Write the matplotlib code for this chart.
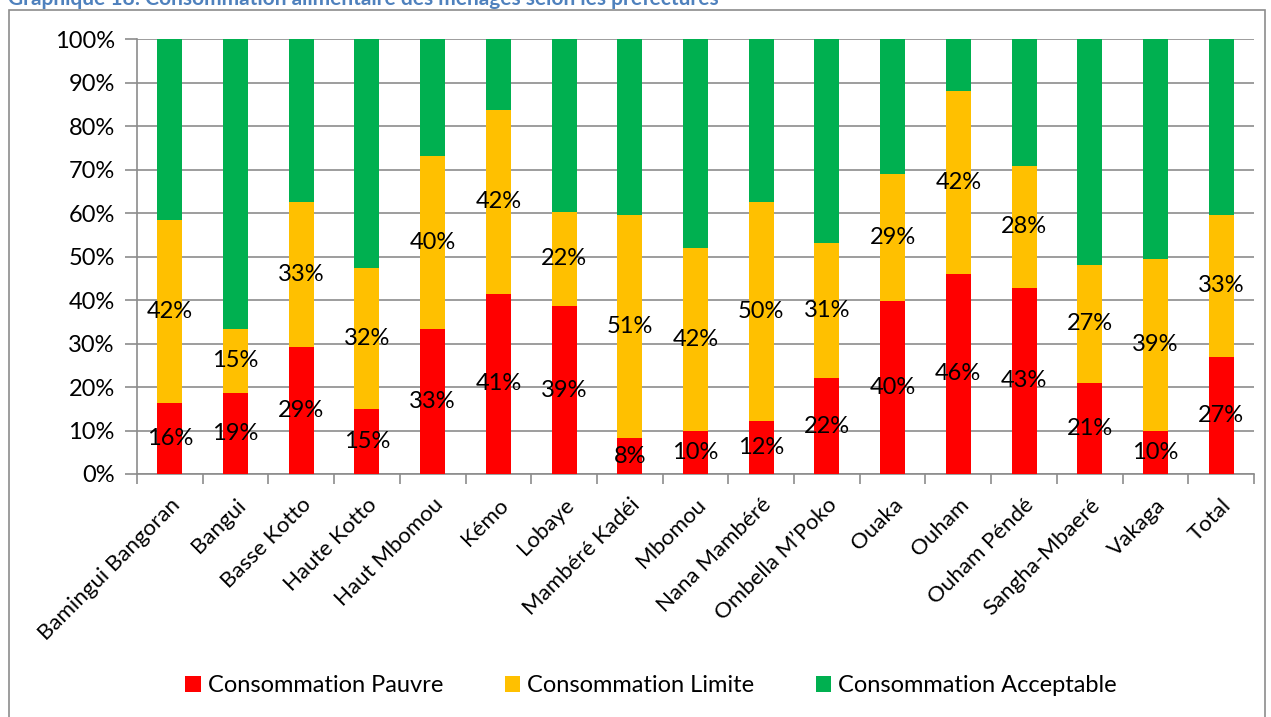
import matplotlib
matplotlib.use("Agg")
import matplotlib.pyplot as plt
import matplotlib.ticker as ticker
from matplotlib.patches import Rectangle
import numpy as np

plt.rcParams['font.family'] = ['Lato', 'DejaVu Sans']

# Data (percent of households)
prefectures = ["Bamingui Bangoran", "Bangui", "Basse Kotto", "Haute Kotto",
               "Haut Mbomou", "Kémo", "Lobaye", "Mambéré Kadéi", "Mbomou",
               "Nana Mambéré", "Ombella M\u2019Poko", "Ouaka", "Ouham",
               "Ouham Péndé", "Sangha-Mbaeré", "Vakaga", "Total"]
pauvre = [16.4, 18.7, 29.2, 15.0, 33.4, 41.4, 38.6, 8.2, 10.0, 12.2, 22.0,
          39.7, 46.0, 42.8, 21.0, 10.0, 27.0]
limite = [42.0, 14.6, 33.4, 32.4, 39.7, 42.3, 21.7, 51.3, 42.0, 50.3, 31.2,
          29.3, 42.0, 28.0, 27.0, 39.4, 32.6]
acceptable = [100 - p - l for p, l in zip(pauvre, limite)]

series_names = ["Consommation Pauvre", "Consommation Limite", "Consommation Acceptable"]
colors = ["#FF0000", "#FFC000", "#00B050"]

W, H = 1271, 717
fig = plt.figure(figsize=(W / 100, H / 100), dpi=100)

# Outer chart frame (Excel style)
fig.patches.append(Rectangle((9 / W, -0.05), (1265 - 9) / W, 1.05 - 10 / H,
                             transform=fig.transFigure, fill=False,
                             edgecolor="#8C8C8C", linewidth=1.2))

# Title, cropped at the top edge like the source picture
fig.text(8 / W, 1 + 1 / H, "Graphique 18: Consommation alimentaire des ménages selon les préfectures",
         color="#4F81BD", fontsize=15, fontweight="bold", ha="left", va="center")

ax = fig.add_axes([137 / W, (H - 474) / H, (1254 - 137) / W, (474 - 39) / H])

x = np.arange(len(prefectures))
bw = 0.38
bottom = np.zeros(len(x))
for i, (vals, name, col) in enumerate(zip([pauvre, limite, acceptable], series_names, colors)):
    vals = np.array(vals)
    ax.bar(x, vals, bw, bottom=bottom, color=col, label=name, zorder=3)
    if i < 2:
        for xi, b, v in zip(x, bottom, vals):
            ax.text(xi, b + v / 2, "%d%%" % round(v), ha="center", va="center",
                    fontsize=17, color="black", zorder=4)
    bottom = bottom + vals

ax.set_xlim(-0.5, len(x) - 0.5)
ax.set_ylim(0, 100)
ax.yaxis.set_major_locator(ticker.MultipleLocator(10))
ax.yaxis.set_major_formatter(ticker.FuncFormatter(lambda v, p: "%d%%" % v))
ax.grid(axis="y", color="#8C8C8C", linewidth=1.2, zorder=0)
ax.tick_params(axis="y", length=9, color="#8C8C8C", width=1.2, labelsize=17, pad=7)

ax.set_xticks(x)
ax.set_xticklabels(prefectures, rotation=45, ha="right", rotation_mode="anchor", fontsize=16)
ax.xaxis.set_minor_locator(ticker.FixedLocator(np.arange(-0.5, len(x), 1)))
ax.tick_params(axis="x", which="major", length=0, pad=15)
ax.tick_params(axis="x", which="minor", length=7, color="#8C8C8C", width=1.2)

for s in ["top", "right"]:
    ax.spines[s].set_visible(False)
for s in ["left", "bottom"]:
    ax.spines[s].set_color("#8C8C8C")
    ax.spines[s].set_linewidth(1.2)

ax.legend(loc="center", bbox_to_anchor=(651 / W, (H - 686) / H),
          bbox_transform=fig.transFigure, ncol=3, frameon=False, fontsize=17,
          handlelength=0.65, handleheight=0.65, handletextpad=0.3, columnspacing=2.6)

plt.savefig("out.png", dpi=100)
